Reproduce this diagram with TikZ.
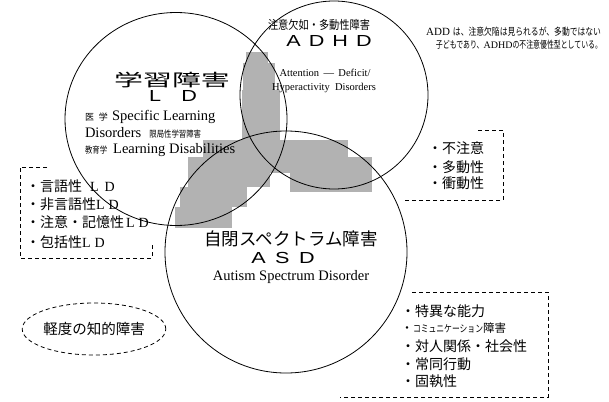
\documentclass[tikz,border=0pt]{standalone}
\usepackage{fontspec}
\setmainfont{Liberation Serif}
\newfontfamily\jp{Noto Sans CJK JP}
\newfontfamily\hv{Liberation Sans}
\usetikzlibrary{shapes.geometric}
\begin{document}
\begin{tikzpicture}[x=1pt,y=-1pt,
  ring/.style={draw, line width=0.8pt, inner sep=0pt},
  dbox/.style={draw, line width=0.8pt, dash pattern=on 4pt off 3pt},
  shadearea/.style={fill=black!30},
  lbl/.style={inner sep=0pt, outer sep=0pt},
]
\useasboundingbox (0,0) rectangle (609,401);
\fill[white] (0,0) rectangle (609,401);

% halftone overlap areas
\fill[shadearea] (246,52) rectangle (268,63);
\fill[shadearea] (243,63) rectangle (275,90);
\fill[shadearea] (242,90) rectangle (280,140);
\fill[shadearea] (203,140) rectangle (348,157);
\fill[shadearea] (188,157) rectangle (372,173);
\fill[shadearea] (290,173) rectangle (372,192);
\fill[shadearea] (188,173) rectangle (270,187);
\fill[shadearea] (180,187) rectangle (247,207);
\fill[shadearea] (175,207) rectangle (232,228);

% circles
\node[ring, ellipse, minimum width=222pt, minimum height=213pt] (ld) at (176,119) {};
\node[ring, circle, minimum size=188pt] (adhd) at (334,95) {};
\node[ring, circle, minimum size=242pt] (asd) at (286,252) {};

% LD texts
\node[lbl] (ldjp) at (172,80) {\fontsize{17}{17}\jp\scalebox{1.7}[1]{学習障害}};
\node[lbl] (ldab) at (173,96) {\fontsize{16}{16}\hv\scalebox{1.35}[1]{L\hspace{15pt}D}};
\node[lbl, anchor=base west] (ld1) at (85,120) {\fontsize{9}{9}\jp 医\hspace{5pt}学\hspace{4pt}\fontsize{14.5}{14.5}\rmfamily Specific Learning};
\node[lbl, anchor=base west] (ld2) at (85,137) {\fontsize{14.5}{14.5}\selectfont Disorders\hspace{8pt}\fontsize{9}{9}\jp\scalebox{0.82}[1]{限局性学習障害}};
\node[lbl, anchor=base west] (ld3) at (85,153) {\fontsize{9}{9}\jp\scalebox{0.82}[1]{教育学}\hspace{6pt}\fontsize{14.5}{14.5}\rmfamily Learning Disabilities};

% ADHD texts
\node[lbl] (adjp) at (319,25) {\fontsize{12}{12}\jp\scalebox{0.85}[1]{注意欠如・多動性障害}};
\node[lbl] (adab) at (329,41) {\fontsize{16}{16}\hv\scalebox{1.35}[1]{A\hspace{6pt}D\hspace{6pt}H\hspace{6pt}D}};
\node[lbl] (ad1) at (325,73) {\fontsize{10.5}{10.5}\selectfont Attention \,—\, Deficit/};
\node[lbl] (ad2) at (324,88) {\fontsize{10.5}{10.5}\selectfont Hyperactivity\ \ Disorders};

% ADD note
\node[lbl, anchor=east] (note1) at (601,32) {\fontsize{11}{11}\selectfont ADD\hspace{3pt}\fontsize{10}{10}\jp\scalebox{0.78}[1]{は、注意欠陥は見られるが、多動ではない}};
\node[lbl, anchor=east] (note2) at (602,45) {\fontsize{10}{10}\jp\scalebox{0.69}[1]{子どもであり、}{\rmfamily ADHD}\scalebox{0.69}[1]{の不注意優性型としている。}};

% ADHD symptom box
\node[lbl, anchor=west] (s1) at (428,148) {\fontsize{14}{14}\jp ・不注意};
\node[lbl, anchor=west] (s2) at (428,167) {\fontsize{14}{14}\jp ・多動性};
\node[lbl, anchor=west] (s3) at (428,183) {\fontsize{14}{14}\jp ・衝動性};
\coordinate (tra) at (478,130);
\coordinate (trb) at (503,130);
\coordinate (trc) at (503,200);
\coordinate (trd) at (405,200);
\draw[dbox] (tra) -- (trb) -- (trc) -- (trd);

% LD types box
\node[lbl, anchor=west] (t1) at (26,186) {\fontsize{14}{14}\jp ・言語性\hspace{8pt}\rmfamily L\hspace{6pt}D};
\node[lbl, anchor=west] (t2) at (26,204) {\fontsize{14}{14}\jp ・非言語性\rmfamily L\hspace{4pt}D};
\node[lbl, anchor=west] (t3) at (26,222.5) {\fontsize{14}{14}\jp ・注意・記憶性\hspace{2pt}\rmfamily L\hspace{4pt}D};
\node[lbl, anchor=west] (t4) at (26,242.5) {\fontsize{14}{14}\jp ・包括性\rmfamily L\hspace{4pt}D};
\coordinate (lba) at (47,167);
\coordinate (lbb) at (20,167);
\coordinate (lbc) at (20,258);
\coordinate (lbd) at (152,258);
\coordinate (lbe) at (152,245);
\draw[dbox] (lba) -- (lbb) -- (lbc) -- (lbd) -- (lbe);

% ASD texts
\node[lbl] (asdjp) at (291,238.5) {\fontsize{17.5}{17.5}\jp 自閉スペクトラム障害};
\node[lbl] (asdab) at (283,258) {\fontsize{16}{16}\hv\scalebox{1.35}[1]{A\hspace{7pt}S\hspace{7pt}D}};
\node[lbl] (asden) at (291,277) {\fontsize{14.5}{14.5}\selectfont Autism Spectrum Disorder};

% ASD traits box
\node[lbl, anchor=west] (u1) at (401,311) {\fontsize{14}{14}\jp ・特異な能力};
\node[lbl, anchor=west] (u2) at (401,328) {\fontsize{12}{12}\jp ・\fontsize{10}{10}\jp\scalebox{0.78}[1]{コミュニケーション}\fontsize{11.5}{11.5}\jp 障害};
\node[lbl, anchor=west] (u3) at (401,346.5) {\fontsize{14}{14}\jp ・対人関係・社会性};
\node[lbl, anchor=west] (u4) at (401,364) {\fontsize{14}{14}\jp ・常同行動};
\node[lbl, anchor=west] (u5) at (401,381) {\fontsize{14}{14}\jp ・固執性};
\coordinate (bra) at (412,292);
\coordinate (brb) at (548,292);
\coordinate (brc) at (548,397);
\coordinate (brd) at (340,397);
\draw[dbox] (bra) -- (brb) -- (brc) -- (brd);

% mild intellectual disability
\node[ring, ellipse, dash pattern=on 4pt off 3pt, minimum width=143pt, minimum height=52pt] (mild) at (94,329) {\fontsize{14.5}{14.5}\jp 軽度の知的障害};
\end{tikzpicture}
\end{document}
